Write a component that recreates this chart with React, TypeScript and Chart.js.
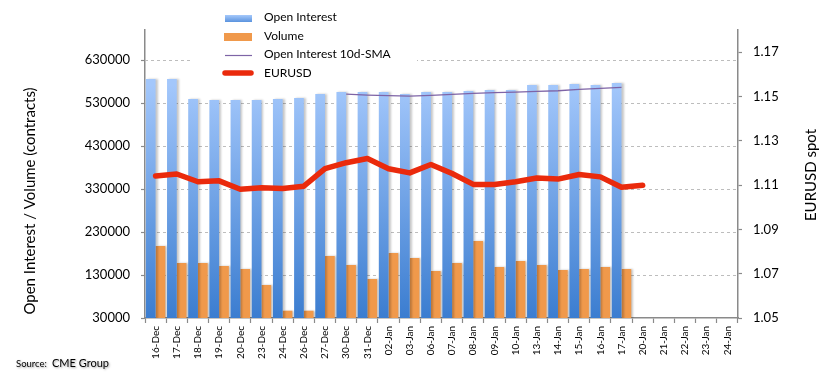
import React, { useEffect, useRef } from "react";
import { Chart, registerables } from "chart.js";

Chart.register(...registerables);

const categories = [
  "16-Dec", "17-Dec", "18-Dec", "19-Dec", "20-Dec", "23-Dec", "24-Dec", "26-Dec", "27-Dec", "30-Dec", "31-Dec",
  "02-Jan", "03-Jan", "06-Jan", "07-Jan", "08-Jan", "09-Jan", "10-Jan", "13-Jan", "14-Jan", "15-Jan", "16-Jan",
  "17-Jan", "20-Jan", "21-Jan", "22-Jan", "23-Jan", "24-Jan",
];

const openInterest = [
  586000, 586000, 539400, 537100, 537100, 537100, 539400, 541700, 551000, 555700, 555700,
  555700, 551000, 555700, 555700, 558000, 560400, 560400, 572000, 572000, 574300, 572000, 576600,
];

const volume = [
  197500, 157900, 157900, 151000, 144000, 106800, 47000, 47000, 174200, 153300, 120700,
  181200, 169600, 139300, 157900, 209100, 148600, 162600, 153300, 141700, 144000, 148600, 144000,
];

const oiSma10 = [
  null, null, null, null, null, null, null, null, null, 551000, 548700,
  547100, 546400, 548000, 550300, 552600, 554100, 555700, 557300, 558700, 562000, 564300, 566600,
];

const eurusd = [
  1.1141, 1.115, 1.1115, 1.1119, 1.1081, 1.1088, 1.1085, 1.1095, 1.1174, 1.1201, 1.122,
  1.1174, 1.1155, 1.1193, 1.1152, 1.1103, 1.1103, 1.1115, 1.1132, 1.1127, 1.1148, 1.1137, 1.109, 1.1099,
];

const leftTicks = [30000, 130000, 230000, 330000, 430000, 530000, 630000];
const rightTicks = [1.05, 1.07, 1.09, 1.11, 1.13, 1.15, 1.17];

const legendLabels = ["Open Interest", "Volume", "Open Interest 10d-SMA", "EURUSD"];
const leftTitle = "Open Interest / Volume (contracts)";
const rightTitle = "EURUSD spot";
const sourceLabel = "Source:";
const sourceName = "CME Group";

const FONT = "Lato, 'Open Sans', sans-serif";
const BLUE_TOP = "#a3c7fb";
const BLUE_BOTTOM = "#3b7dd0";
const ORANGE = "#f0994b";
const RED = "#ea2a0c";
const PURPLE = "#7e64a6";
const AXIS = "#8a8a8a";

const gridPlugin = {
  id: "dashGrid",
  beforeDatasetsDraw(chart: any) {
    const { ctx, chartArea, scales } = chart;
    ctx.save();
    ctx.strokeStyle = "#bdbdbd";
    ctx.lineWidth = 1;
    ctx.setLineDash([3, 3]);
    leftTicks.forEach((v, i) => {
      if (i === 0) return;
      const y = Math.round(scales.y.getPixelForValue(v)) + 0.5;
      ctx.beginPath();
      ctx.moveTo(chartArea.left, y);
      ctx.lineTo(chartArea.right, y);
      ctx.stroke();
    });
    ctx.restore();
  },
};

const shadowPlugin = {
  id: "barShadow",
  beforeDatasetDraw(chart: any, args: any) {
    const ds = chart.data.datasets[args.index];
    if (ds.type && ds.type !== "bar") return;
    const ctx = chart.ctx;
    ctx.save();
    ctx.shadowColor = "rgba(0,0,0,0.22)";
    ctx.shadowOffsetX = 2;
    ctx.shadowOffsetY = 0;
    ctx.shadowBlur = 2;
  },
  afterDatasetDraw(chart: any, args: any) {
    const ds = chart.data.datasets[args.index];
    if (ds.type && ds.type !== "bar") return;
    chart.ctx.restore();
  },
};

const decorPlugin = {
  id: "decor",
  afterDraw(chart: any) {
    const ctx = chart.ctx;
    ctx.save();
    // legend box
    ctx.fillStyle = "#ffffff";
    ctx.fillRect(191, 2, 226, 82);

    const g = ctx.createLinearGradient(0, 15, 0, 22);
    g.addColorStop(0, "#a6c9fb");
    g.addColorStop(1, "#5a93de");
    ctx.fillStyle = g;
    ctx.fillRect(225, 15, 27, 7);

    ctx.fillStyle = ORANGE;
    ctx.fillRect(224, 33, 28, 8);

    ctx.strokeStyle = PURPLE;
    ctx.lineWidth = 1.2;
    ctx.beginPath();
    ctx.moveTo(225, 55.5);
    ctx.lineTo(252, 55.5);
    ctx.stroke();

    ctx.strokeStyle = RED;
    ctx.lineWidth = 5.5;
    ctx.lineCap = "round";
    ctx.beginPath();
    ctx.moveTo(225, 73);
    ctx.lineTo(251, 73);
    ctx.stroke();

    ctx.fillStyle = "#000";
    ctx.font = `12px ${FONT}`;
    ctx.textAlign = "left";
    ctx.textBaseline = "alphabetic";
    const bases = [21, 39.5, 58, 76.5];
    legendLabels.forEach((t, i) => ctx.fillText(t, 264, bases[i]));

    // axis titles
    ctx.font = `15px ${FONT}`;
    ctx.textAlign = "center";
    ctx.textBaseline = "middle";
    ctx.save();
    ctx.translate(30, 201);
    ctx.rotate(-Math.PI / 2);
    ctx.fillText(leftTitle, 0, 0);
    ctx.restore();

    ctx.save();
    ctx.translate(811, 175);
    ctx.rotate(-Math.PI / 2);
    ctx.fillText(rightTitle, 0, 0);
    ctx.restore();

    // source
    ctx.textAlign = "left";
    ctx.textBaseline = "alphabetic";
    ctx.shadowColor = "rgba(0,0,0,0.35)";
    ctx.shadowBlur = 2;
    ctx.shadowOffsetX = 1;
    ctx.shadowOffsetY = 1;
    ctx.font = `9.5px ${FONT}`;
    ctx.fillText(sourceLabel, 16, 367);
    ctx.font = `11px ${FONT}`;
    ctx.fillText(sourceName, 52, 367);
    ctx.restore();
  },
};

export default function App() {
  const canvasRef = useRef<HTMLCanvasElement | null>(null);

  useEffect(() => {
    document.body.style.margin = "0";
    const canvas = canvasRef.current;
    if (!canvas) return;

    const blueFill = (c: any) => {
      const { chart } = c;
      const area = chart.chartArea;
      if (!area) return BLUE_TOP;
      const grad = chart.ctx.createLinearGradient(0, area.bottom, 0, area.top + 55);
      grad.addColorStop(0, BLUE_BOTTOM);
      grad.addColorStop(1, BLUE_TOP);
      return grad;
    };

    const chart = new Chart(canvas, {
      type: "bar",
      data: {
        labels: categories,
        datasets: [
          {
            type: "line",
            label: legendLabels[3],
            data: eurusd,
            yAxisID: "y1",
            borderColor: RED,
            borderWidth: 5.5,
            pointRadius: 0,
            tension: 0,
            borderJoinStyle: "round",
            borderCapStyle: "round",
            order: 1,
          },
          {
            type: "line",
            label: legendLabels[2],
            data: oiSma10,
            yAxisID: "y",
            borderColor: PURPLE,
            borderWidth: 1.3,
            pointRadius: 0,
            tension: 0,
            order: 2,
          },
          {
            type: "bar",
            label: legendLabels[0],
            data: openInterest,
            yAxisID: "y",
            backgroundColor: blueFill,
            borderWidth: 0,
            barPercentage: 1,
            categoryPercentage: 0.92,
            order: 3,
          },
          {
            type: "bar",
            label: legendLabels[1],
            data: volume,
            yAxisID: "y",
            backgroundColor: ORANGE,
            borderWidth: 0,
            barPercentage: 1,
            categoryPercentage: 0.92,
            order: 3,
          },
        ],
      } as any,
      options: {
        responsive: false,
        animation: false,
        devicePixelRatio: 1,
        layout: { padding: { top: 30, left: 0, right: 0, bottom: 0 } },
        plugins: {
          legend: { display: false },
          tooltip: { enabled: false },
          title: { display: false },
        },
        scales: {
          x: {
            type: "category",
            offset: true,
            grid: {
              offset: true,
              drawOnChartArea: false,
              drawTicks: true,
              tickLength: 5,
              color: AXIS,
              tickColor: AXIS,
              tickWidth: 1.2,
            },
            border: { display: true, color: AXIS, width: 1.5 },
            ticks: {
              autoSkip: false,
              maxRotation: 90,
              minRotation: 90,
              padding: 3,
              color: "#000",
              font: { family: FONT, size: 10 },
            },
            afterFit(scale: any) {
              scale.height = 62;
            },
          },
          y: {
            type: "linear",
            position: "left",
            min: 30000,
            max: 700000,
            grid: {
              drawOnChartArea: false,
              drawTicks: true,
              tickLength: 4,
              tickColor: AXIS,
              tickWidth: 1.2,
            },
            border: { display: true, color: AXIS, width: 1.5 },
            ticks: {
              padding: 11,
              color: "#000",
              font: { family: FONT, size: 13 },
              callback: (v: any) => String(v),
            },
            afterBuildTicks(scale: any) {
              scale.ticks = leftTicks.map((v) => ({ value: v }));
            },
            afterFit(scale: any) {
              scale.width = 145;
            },
          },
          y1: {
            type: "linear",
            position: "right",
            min: 1.05,
            max: 1.18,
            grid: {
              drawOnChartArea: false,
              drawTicks: true,
              tickLength: 4,
              tickColor: AXIS,
              tickWidth: 1.2,
            },
            border: { display: true, color: AXIS, width: 1.5 },
            ticks: {
              padding: 11,
              color: "#000",
              font: { family: FONT, size: 13 },
              callback: (v: any) => Number(v).toFixed(2),
            },
            afterBuildTicks(scale: any) {
              scale.ticks = rightTicks.map((v) => ({ value: v }));
            },
            afterFit(scale: any) {
              scale.width = 89;
            },
          },
        },
      } as any,
      plugins: [gridPlugin, shadowPlugin, decorPlugin],
    });

    return () => chart.destroy();
  }, []);

  return (
    <div style={{ width: 827, height: 380 }}>
      <canvas ref={canvasRef} width={827} height={380} style={{ display: "block" }} />
    </div>
  );
}
